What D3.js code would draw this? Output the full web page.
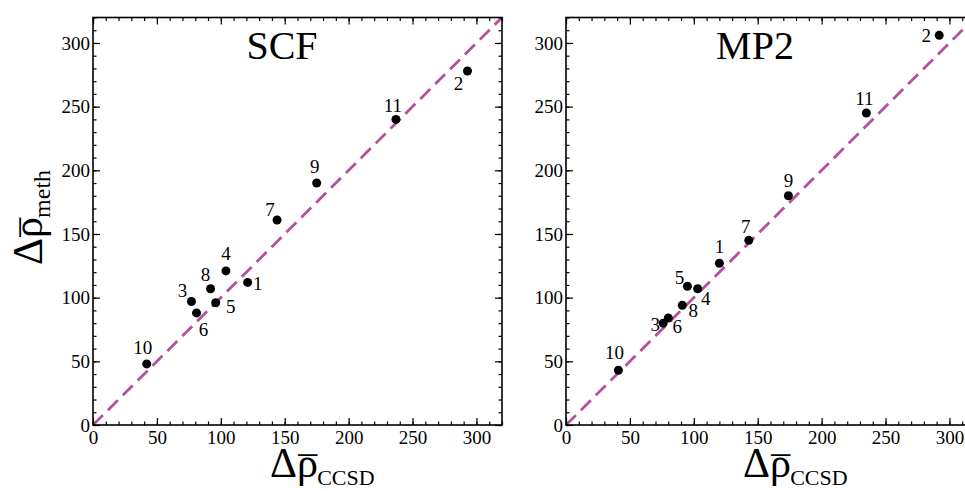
<!DOCTYPE html>
<html>
<head>
<meta charset="utf-8">
<script src="https://cdn.jsdelivr.net/npm/d3@7"></script>
<style>
  body { margin: 0; background: #fff; }
  svg { display: block; }
  svg text { font-family: "Liberation Serif", "DejaVu Serif", serif; }
</style>
</head>
<body>
<div id="vis-holder"></div>
<script>
// data
const ids = ["1", "2", "3", "4", "5", "6", "7", "8", "9", "10", "11"];
const ccsd_scf = [121, 293, 77, 104, 96, 81, 144, 92, 175, 42, 237];
const scf = [112, 278, 97, 121, 96, 88, 161, 107, 190, 48, 240];
const ccsd_mp2 = [120, 292, 76, 103, 95, 80, 143, 91, 174, 41, 235];
const mp2 = [127, 306, 80, 107, 109, 84, 145, 94, 180, 43, 245];
const ticksMajor = [0, 50, 100, 150, 200, 250, 300];
const titles = ["SCF", "MP2"];

// label placement (offsets from the dot, px)
const labelPosScf = {
  "1": [10, 8], "2": [-9, 19], "3": [-9, -4], "4": [0, -11], "5": [15, 10],
  "6": [7, 23], "7": [-7, -4], "8": [-5, -8], "9": [-2, -10], "10": [-4, -10], "11": [-3, -7]
};
const labelPosMp2 = {
  "1": [0, -10], "2": [-13, 7], "3": [-8, 8], "4": [8, 16], "5": [-8, -2],
  "6": [9, 15], "7": [-3, -7], "8": [11, 12], "9": [0, -9], "10": [-4, -11], "11": [-2, -8]
};

const w = 965, h = 491;
const svg = d3.select("#vis-holder").append("svg")
  .attr("width", w).attr("height", h);

const panelW = 409;
const yScale = d3.scaleLinear().domain([0, 320]).range([425, 17.5]);
const lineColor = "#b4519e";
const serif = "Liberation Serif";

// Δρ̄ with a subscript; the bar is a macron glyph pulled back over the rho
function rhoBar(sel, big, small, sub) {
  sel.append("tspan").attr("font-size", big).text("\u0394\u03C1");
  sel.append("tspan").attr("font-size", big * 0.9).attr("dx", -big * 0.47).attr("dy", 6).text("\u00AF");
  sel.append("tspan").attr("font-size", small).attr("dy", 2).text(sub);
}

function drawPanel(x0, xs, ys, title, labelPos, idx) {
  const x = d3.scaleLinear().domain([0, 320]).range([x0, x0 + panelW]);
  const g = svg.append("g");
  const minor = d3.range(0, 330, 10);

  g.append("clipPath").attr("id", "clip" + idx)
    .append("rect").attr("x", x0).attr("y", yScale(320))
    .attr("width", panelW).attr("height", yScale(0) - yScale(320));

  // diagonal
  g.append("line")
    .attr("clip-path", "url(#clip" + idx + ")")
    .attr("x1", x(0)).attr("y1", yScale(0))
    .attr("x2", x(320)).attr("y2", yScale(320))
    .attr("stroke", lineColor).attr("stroke-width", 2.8)
    .attr("stroke-dasharray", "14,7");

  // axes: bottom, top, left, right (ticks inward)
  const mk = (axisFn, sel, tr, vals, size, labels) => {
    const a = axisFn(sel === "x" ? x : yScale).tickValues(vals)
      .tickSize(-size).tickSizeOuter(0).tickPadding(5);
    if (!labels) a.tickFormat("");
    const ax = g.append("g").attr("transform", tr).call(a)
      .attr("font-family", serif).attr("font-size", 19);
    ax.select(".domain").remove();
    ax.selectAll("line").attr("stroke", "#000").attr("stroke-width", 1.2);
    ax.selectAll("text").style("font-family", serif).attr("fill", "#000");
    return ax;
  };
  const bottom = "translate(0," + yScale(0) + ")";
  const top = "translate(0," + yScale(320) + ")";
  const left = "translate(" + x0 + ",0)";
  const right = "translate(" + (x0 + panelW) + ",0)";
  mk(d3.axisBottom, "x", bottom, minor, 3.5, false);
  mk(d3.axisBottom, "x", bottom, ticksMajor, 7, true).selectAll("text").attr("dy", "0.75em");
  mk(d3.axisTop, "x", top, minor, 3.5, false);
  mk(d3.axisTop, "x", top, ticksMajor, 7, false);
  mk(d3.axisLeft, "y", left, minor, 3.5, false);
  mk(d3.axisLeft, "y", left, ticksMajor, 7, true).selectAll("text").attr("x", -3);
  mk(d3.axisRight, "y", right, minor, 3.5, false);
  mk(d3.axisRight, "y", right, ticksMajor, 7, false);

  // frame
  g.append("rect")
    .attr("x", x0).attr("y", yScale(320))
    .attr("width", panelW).attr("height", yScale(0) - yScale(320))
    .attr("fill", "none").attr("stroke", "#000").attr("stroke-width", 1.6);

  // points
  const pts = ids.map((id, i) => ({ id: id, x: xs[i], y: ys[i] }));
  g.selectAll("circle.pt").data(pts).enter().append("circle")
    .attr("class", "pt")
    .attr("cx", d => x(d.x)).attr("cy", d => yScale(d.y))
    .attr("r", 4.5).attr("fill", "#000");

  g.selectAll("text.lbl").data(pts).enter().append("text")
    .attr("class", "lbl")
    .attr("x", d => x(d.x) + labelPos[d.id][0])
    .attr("y", d => yScale(d.y) + labelPos[d.id][1])
    .attr("text-anchor", "middle")
    .attr("font-size", 19)
    .text(d => d.id);

  // title
  g.append("text")
    .attr("x", x0 + 189).attr("y", 59)
    .attr("text-anchor", "middle")
    .attr("font-size", 40)
    .text(title);

  // x axis label
  const xl = g.append("text").attr("x", x0 + 177).attr("y", 477);
  rhoBar(xl, 42, 22, "CCSD");
}

drawPanel(93, ccsd_scf, scf, titles[0], labelPosScf, 0);
drawPanel(566, ccsd_mp2, mp2, titles[1], labelPosMp2, 1);

// y axis label
const yl = svg.append("text")
  .attr("transform", "translate(42,265) rotate(-90)");
rhoBar(yl, 42, 24, "meth");
</script>
</body>
</html>
